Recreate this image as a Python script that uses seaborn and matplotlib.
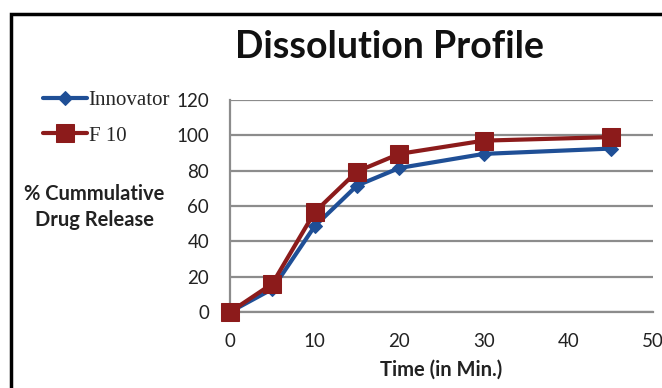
import pandas as pd
import matplotlib
matplotlib.use("Agg")
import matplotlib.pyplot as plt
import seaborn as sns
from matplotlib.patches import Rectangle

time_min = [0, 5, 10, 15, 20, 30, 45]
innovator = [0, 13, 48.5, 71.5, 81.5, 89.5, 92.5]
f10 = [0, 16, 56.5, 79.5, 89.5, 97, 99]
series_names = ["Innovator", "F 10"]
x_ticks = [0, 10, 20, 30, 40, 50]
y_ticks = [0, 20, 40, 60, 80, 100, 120]

df = pd.concat(
    [
        pd.DataFrame({"Time": time_min, "Release": innovator, "Series": series_names[0]}),
        pd.DataFrame({"Time": time_min, "Release": f10, "Series": series_names[1]}),
    ],
    ignore_index=True,
)

sns.set_theme(style="white")
plt.rcParams["font.family"] = ["Lato", "DejaVu Sans"]

colors = {"Innovator": "#1f4f96", "F 10": "#8c1b1b"}
markers = {"Innovator": "D", "F 10": "s"}
sizes = {"Innovator": 7, "F 10": 12.5}

fig = plt.figure(figsize=(6.62, 3.88), dpi=100)
ax = fig.add_axes([230 / 662, 1 - 312 / 388, 423 / 662, 212 / 388])

for name in series_names:
    sns.lineplot(
        data=df[df["Series"] == name],
        x="Time",
        y="Release",
        color=colors[name],
        marker=markers[name],
        markersize=sizes[name],
        markeredgecolor=colors[name],
        linewidth=3,
        label=name,
        ax=ax,
        zorder=3,
    )

ax.set_xlim(0, 50)
ax.set_ylim(0, 120)
ax.set_xticks(x_ticks)
ax.set_yticks(y_ticks)
ax.tick_params(axis="both", labelsize=13.5, colors="#808080", labelcolor="#222222",
               length=4, width=1.5, pad=11)
ax.tick_params(axis="x", direction="out")
ax.yaxis.grid(True, color="#8c8c8c", linewidth=1.6)
ax.set_axisbelow(True)
for side in ["top", "right"]:
    ax.spines[side].set_visible(False)
for side in ["left", "bottom"]:
    ax.spines[side].set_color("#8c8c8c")
    ax.spines[side].set_linewidth(1.6)
for line in ax.lines:
    line.set_clip_on(False)

ax.set_xlabel("Time (in Min.)", fontsize=14.5, fontweight="bold", color="#222222", labelpad=7)
ax.set_ylabel("")

handles, labels = ax.get_legend_handles_labels()
ax.get_legend().remove()
fig.legend(
    handles,
    labels,
    loc="upper left",
    bbox_to_anchor=(24 / 662, 1 - 72 / 388),
    frameon=False,
    handlelength=2.1,
    handletextpad=0.1,
    labelspacing=0.75,
    prop={"family": "Liberation Serif", "size": 15},
)

fig.text(94 / 662, 1 - 207 / 388, "% Cummulative\nDrug Release", ha="center", va="center",
         fontsize=14.5, fontweight="bold", color="#222222", linespacing=1.4)
fig.text(389 / 662, 1 - 47 / 388, "Dissolution Profile", ha="center", va="center",
         fontsize=27, fontweight="bold", color="#111111")

fig.patches.append(Rectangle((11 / 662, -0.1), 1.2, 1.1 - 14 / 388, transform=fig.transFigure,
                             fill=False, edgecolor="black", linewidth=2.5, figure=fig))

fig.savefig("out.png", dpi=100)
